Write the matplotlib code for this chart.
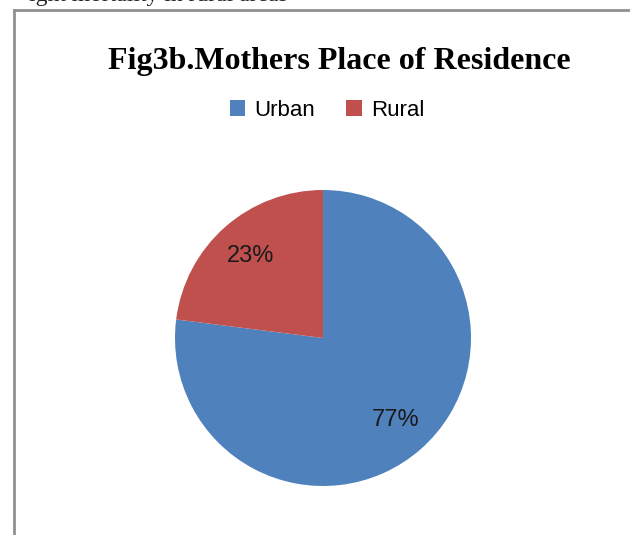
import matplotlib.pyplot as plt
from matplotlib.lines import Line2D
from matplotlib.patches import Patch

# dados do gráfico
categorias = ['Urban', 'Rural']
percentagens = [77, 23]
cores = ['#4F81BD', '#C0504D']
titulo = 'Fig3b.Mothers Place of Residence'

W, H = 630, 535
fig = plt.figure(figsize=(W / 100, H / 100), dpi=100)
fig.patch.set_facecolor('white')

# texto cortado do documento por cima da caixa (só se vê a parte de baixo)
fig.text(29 / W, 1 - 0.5 / H, 'ight mortality in rural areas', fontsize=17,
         family='Liberation Serif', ha='left', va='baseline', color='#222222')

# moldura da caixa do gráfico (esquerda e topo)
cinza = '#909090'
fig.add_artist(Line2D([14 / W, 14 / W], [0, 1 - 10 / H], color=cinza, lw=2,
                      transform=fig.transFigure))
fig.add_artist(Line2D([14 / W, 1], [1 - 10 / H, 1 - 10 / H], color=cinza, lw=2,
                      transform=fig.transFigure))

# título
fig.text(339 / W, 1 - 69 / H, titulo, fontsize=23, fontweight='bold',
         family='Liberation Serif', ha='center', va='baseline')

# pie: centro (323, 338), raio 148 px
cx, cy, r = 323, 338, 148
ax = fig.add_axes([(cx - r) / W, (H - cy - r) / H, 2 * r / W, 2 * r / H])
wedges, textos, autotextos = ax.pie(
    percentagens, colors=cores, startangle=90, counterclock=False,
    autopct='%d%%', pctdistance=0.74, radius=1.0,
    textprops={'fontsize': 17, 'family': 'Liberation Sans', 'color': '#1a1a1a'})
ax.set_xlim(-1, 1)
ax.set_ylim(-1, 1)
ax.set_aspect('equal')
ax.axis('off')

# legenda
handles = [Patch(facecolor=c, edgecolor='none') for c in cores]
fig.legend(handles, categorias, loc='center', bbox_to_anchor=(327 / W, 1 - 110 / H),
           ncol=2, frameon=False, handlelength=0.7, handleheight=0.7,
           handletextpad=0.4, columnspacing=1.4,
           prop={'family': 'Liberation Sans', 'size': 16})

fig.savefig('out.png', dpi=100)
